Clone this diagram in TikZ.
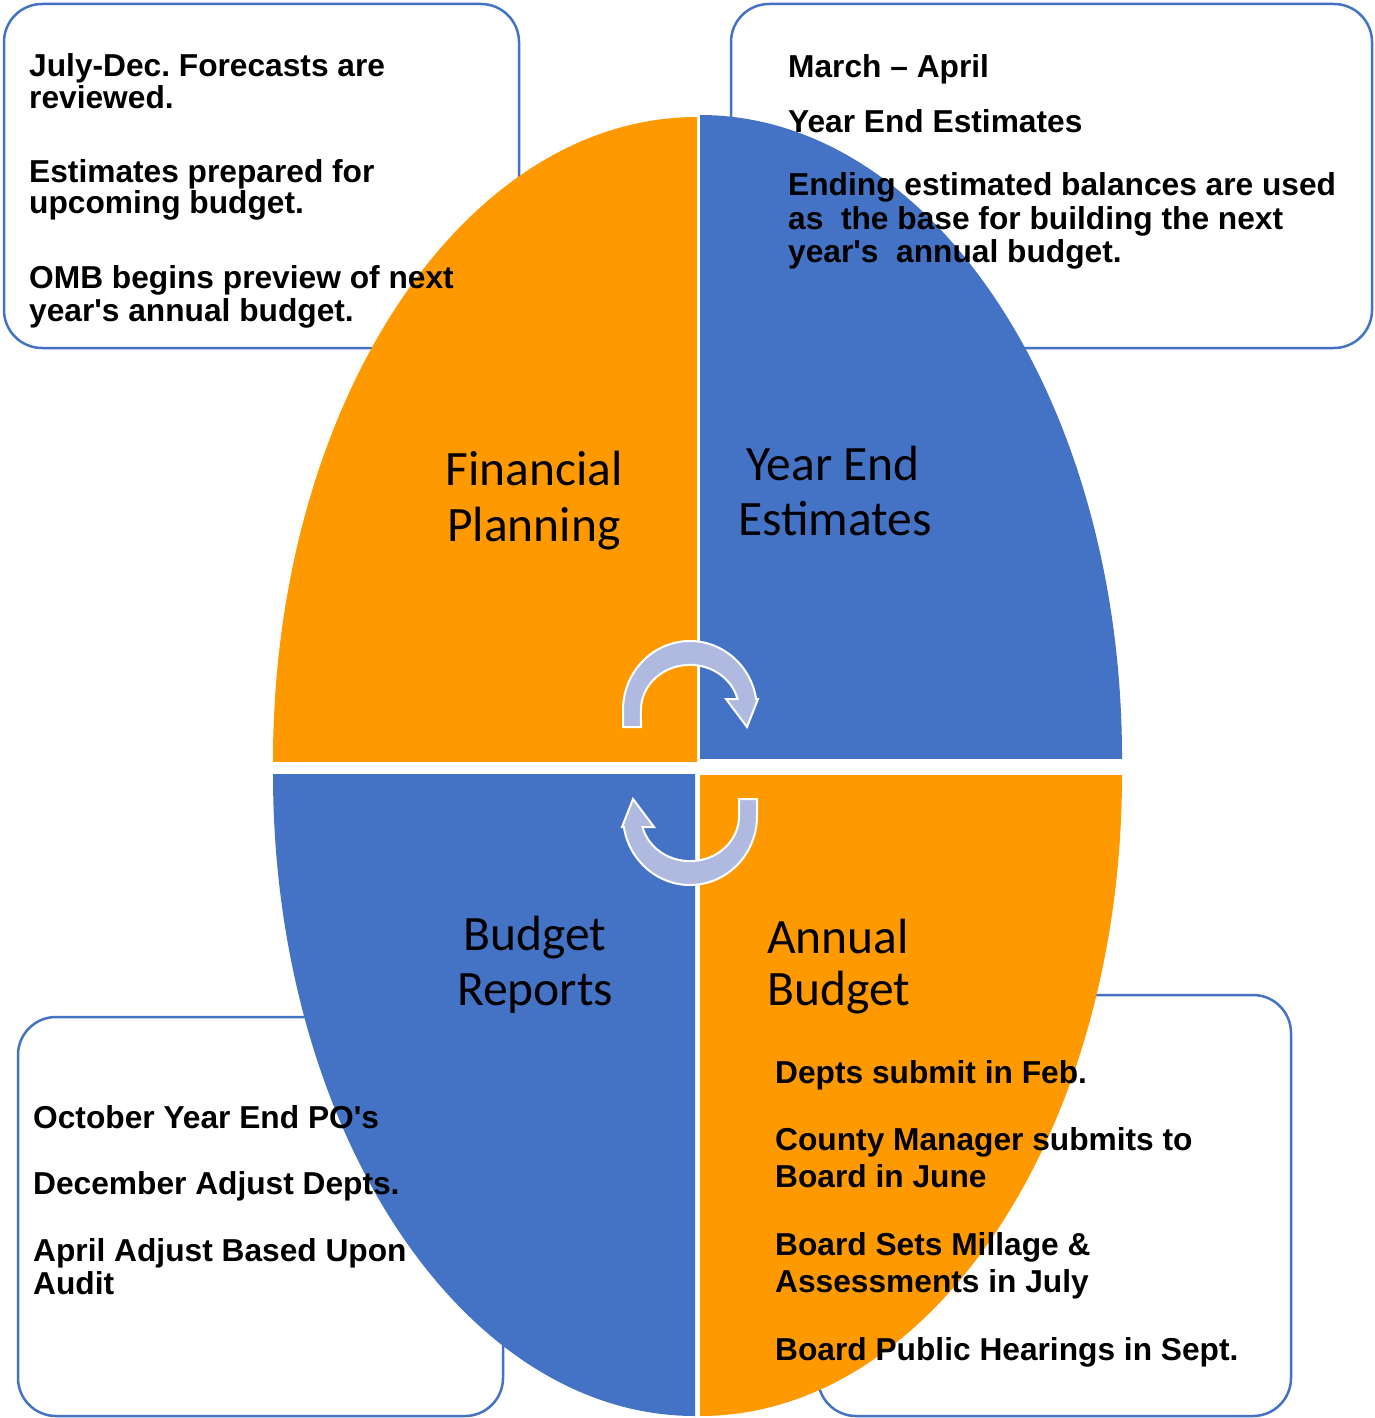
\documentclass[tikz,border=0pt]{standalone}
\usepackage{fontspec}
\setmainfont{Liberation Sans}
\newfontfamily\labfont{Carlito}
\definecolor{orng}{HTML}{FF9900}
\definecolor{blu}{HTML}{4472C4}
\definecolor{arw}{RGB}{176,186,224}
\newcommand\myArrowPath{(641,727) -- (623,727) -- (623,710) arc[start angle=180, end angle=351, x radius=67, y radius=69] -- (758,699) -- (747,727) -- (726,699) -- (737.5,699) arc[start angle=346, end angle=180, x radius=49, y radius=45] -- cycle}
\frenchspacing
\begin{document}
\begin{tikzpicture}[x=1pt,y=-1pt,
  box/.style={draw=blu, line width=2.5pt, rounded corners=38pt, fill=white},
  txt/.style={anchor=base west, inner sep=0pt, font=\frenchspacing\bfseries\fontsize{31.7}{33}\selectfont},
  lab/.style={anchor=base, inner sep=0pt, font=\labfont\fontsize{49.5}{55}\selectfont},
  arrowshape/.style={fill=arw, draw=white, line width=2pt, line join=miter}]
\useasboundingbox (0,0) rectangle (1374,1418);
\fill[white] (0,0) rectangle (1374,1418);
% boxes
\draw[box] (4,4) rectangle (519,348);
\draw[box] (731,4) rectangle (1372,348);
\draw[box] (18,1017) rectangle (503,1416);
\draw[box] (818,995) rectangle (1291,1416);
% quadrants
\begin{scope}
\clip (0,0) rectangle (697,761);
\fill[orng] (697,761) ellipse [x radius=424, y radius=644];
\end{scope}
\begin{scope}
\clip (700,0) rectangle (1374,758);
\fill[blu] (700,758) ellipse [x radius=422, y radius=643];
\end{scope}
\begin{scope}
\clip (0,774) rectangle (695,1418);
\fill[blu] (695,774) ellipse [x radius=422, y radius=642];
\end{scope}
\begin{scope}
\clip (700,775) rectangle (1374,1418);
\fill[orng] (700,775) ellipse [x radius=422, y radius=641];
\end{scope}
% cycle arrows
\path[arrowshape] \myArrowPath;
\begin{scope}[rotate around={180:(690,763)}]
\path[arrowshape] \myArrowPath;
\end{scope}
% quadrant labels
\node[lab] (fp1) at (534,485) {Financial};
\node[lab] (fp2) at (534,541) {Planning};
\node[lab] (ye1) at (833,480) {Year End};
\node[lab] (ye2) at (835,535) {Estimates};
\node[lab] (br1) at (535,950) {Budget};
\node[lab] (br2) at (535,1005) {Reports};
\node[lab] (ab1) at (838,953) {Annual};
\node[lab] (ab2) at (839,1005) {Budget};
% top-left box text
\node[txt] (a1) at (29,77) {July-Dec. Forecasts are};
\node[txt] (a2) at (29,109) {reviewed.};
\node[txt] (a3) at (29,182) {Estimates prepared for};
\node[txt] (a4) at (29,213) {upcoming budget.};
\node[txt] (a5) at (29,288) {OMB begins preview of next};
\node[txt] (a6) at (29,321) {year\textquotesingle s annual budget.};
% top-right box text
\node[txt] (b1) at (788,78) {March – April};
\node[txt] (b2) at (788,132) {Year End Estimates};
\node[txt] (b3) at (788,195) {Ending estimated balances are used};
\node[txt] (b4) at (788,229) {as\ \ the base for building the next};
\node[txt] (b5) at (788,262) {year\textquotesingle s\ \ annual budget.};
% bottom-left box text
\node[txt] (c1) at (33,1128) {October Year End PO\textquotesingle s};
\node[txt] (c2) at (33,1194) {December Adjust Depts.};
\node[txt] (c3) at (33,1261) {April Adjust Based Upon};
\node[txt] (c4) at (33,1294) {Audit};
% bottom-right box text
\node[txt] (d1) at (775,1083) {Depts submit in Feb.};
\node[txt] (d2) at (775,1150) {County Manager submits to};
\node[txt] (d3) at (775,1187) {Board in June};
\node[txt] (d4) at (775,1255) {Board Sets Millage \&};
\node[txt] (d5) at (775,1292) {Assessments in July};
\node[txt] (d6) at (775,1360) {Board Public Hearings in Sept.};
\end{tikzpicture}
\end{document}
